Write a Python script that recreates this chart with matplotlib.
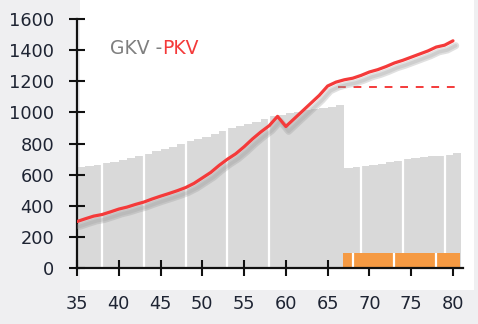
import matplotlib
matplotlib.use("Agg")
import matplotlib.pyplot as plt
import matplotlib.patheffects as pe
from matplotlib.patches import Rectangle
import numpy as np

# ── data ─────────────────────────────────────────────────────────────
ages = np.arange(35, 81)
gkv = [650, 655, 665, 675, 685, 695, 710, 722, 735, 750,
       765, 780, 795, 815, 830, 845, 860, 878, 900, 912,
       925, 940, 955, 975, 985, 995, 1005, 1015, 1022, 1030,
       1038, 1048,
       645, 650, 658, 665, 672, 680, 688, 700, 705, 712,
       718, 722, 728, 738]
pkv = [300, 318, 335, 345, 362, 380, 393, 410, 425, 445,
       463, 480, 498, 518, 545, 580, 615, 660, 700, 735,
       780, 830, 875, 915, 975, 910, 960, 1010, 1060, 1110,
       1170, 1195, 1210, 1220, 1238, 1260, 1275, 1295, 1318, 1335,
       1355, 1375, 1395, 1420, 1432, 1460]
retire_ages = np.arange(67, 81)
retire_vals = [100] * len(retire_ages)
pkv_frozen = 1166
frozen_span = [66.2, 80.2]
gkv_gaps = [38, 43, 48, 53, 58, 69, 74, 79]
retire_gaps = [68, 73, 78]
xticks = [35, 40, 45, 50, 55, 60, 65, 70, 75, 80]
yticks = [0, 200, 400, 600, 800, 1000, 1200, 1400, 1600]

# ── style ────────────────────────────────────────────────────────────
BG = "#efeff1"
GRAY = "#d9d9d9"
ORANGE = "#f59a43"
RED = "#f43a3a"
TXT = "#1e2433"

W, H = 478, 324
fig = plt.figure(figsize=(W / 100, H / 100), dpi=100)
fig.patch.set_facecolor(BG)
# white panel behind the plot
fig.add_artist(Rectangle((80 / W, 1 - 290 / H), (474 - 80) / W, 290 / H,
                         transform=fig.transFigure, facecolor="white",
                         edgecolor="none", zorder=0))

ax = fig.add_axes([77 / W, 1 - 268.3 / H, 386 / W, 249.3 / H])
ax.patch.set_alpha(0)
ax.set_xlim(35, 81.2)
ax.set_ylim(0, 1600)

ax.bar(ages, gkv, width=1, align="edge", color=GRAY, linewidth=0, zorder=1)
ax.vlines(gkv_gaps, 0, 1600, colors="white", lw=1.6, zorder=1.5)
ax.bar(retire_ages - 0.15, retire_vals, width=1, align="edge",
       color=ORANGE, linewidth=0, zorder=2)
ax.vlines(retire_gaps, 0, 100, colors="white", lw=1.6, zorder=2.5)

ax.hlines(pkv_frozen, *frozen_span, colors=RED, lw=1.4,
          linestyles=(0, (4, 4)), zorder=3)
ax.plot(ages, pkv, color=RED, lw=2.3, zorder=4, solid_capstyle="round",
        path_effects=[pe.SimpleLineShadow(offset=(2, -3.5), shadow_color="#9a9a9a",
                                          alpha=0.3, linewidth=5),
                      pe.SimpleLineShadow(offset=(2, -3.5), shadow_color="#9a9a9a",
                                          alpha=0.25, linewidth=2.5),
                      pe.Normal()])

for s in ["top", "right"]:
    ax.spines[s].set_visible(False)
for s in ["left", "bottom"]:
    ax.spines[s].set_linewidth(1.6)
    ax.spines[s].set_color("#111111")
ax.set_xticks(xticks)
ax.set_yticks(yticks)
ax.tick_params(axis="both", direction="inout", length=11, width=1.5,
               colors="#111111", labelcolor=TXT, labelsize=12.8)
ax.tick_params(axis="x", pad=14)
ax.tick_params(axis="y", pad=11)

# two-colour heading: "PKV" hangs off the end of "GKV -"
head = fig.text(110 / W, 1 - 48 / H, "GKV -", color="#7f7f7f", fontsize=13.5,
                va="center", ha="left")
ax.annotate("PKV", xy=(1, 0.5), xycoords=head, color=RED, fontsize=13.5,
            va="center", ha="left", annotation_clip=False)

fig.savefig("out.png", dpi=100, facecolor=BG)
